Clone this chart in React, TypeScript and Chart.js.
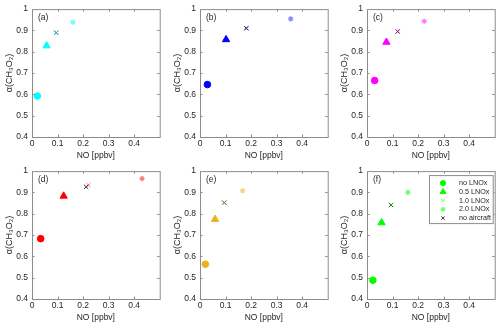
import React, { useEffect, useRef } from 'react';
import { Chart, registerables } from 'chart.js';
import { drawPoint } from 'chart.js/helpers';

Chart.register(...registerables);

// ---------------- data ----------------
const panelLabels = ['(a)', '(b)', '(c)', '(d)', '(e)', '(f)'];
const panelColors = ['#00FFFF', '#0000FF', '#FF00FF', '#FF0000', '#EDB120', '#00FF00'];
const panelLightColors = [
  'rgba(0,255,255,0.55)',
  'rgba(0,0,255,0.45)',
  'rgba(255,0,255,0.5)',
  'rgba(255,0,0,0.5)',
  'rgba(237,177,32,0.55)',
  'rgba(0,255,0,0.55)',
];
const seriesNames = ['no LNOx', '0.5 LNOx', '1.0 LNOx', '2.0 LNOx', 'no aircraft'];

const noLNOxNO = [0.021, 0.029, 0.030, 0.034, 0.021, 0.023];
const noLNOxAlpha = [0.592, 0.646, 0.665, 0.683, 0.563, 0.488];
const lnox05NO = [0.057, 0.102, 0.076, 0.124, 0.059, 0.057];
const lnox05Alpha = [0.828, 0.857, 0.845, 0.883, 0.774, 0.758];
const lnox10NO = [0.095, 0.182, 0.121, 0.221, 0.095, 0.095];
const lnox10Alpha = [0.889, 0.911, 0.895, 0.934, 0.852, 0.842];
const lnox20NO = [0.160, 0.355, 0.224, 0.431, 0.167, 0.160];
const lnox20Alpha = [0.938, 0.954, 0.943, 0.965, 0.908, 0.900];
const noAircraftNO = [0.095, 0.181, 0.120, 0.212, 0.095, 0.094];
const noAircraftAlpha = [0.889, 0.910, 0.895, 0.926, 0.852, 0.841];

const xMin = 0;
const xMax = 0.5;
const xStep = 0.1;
const xLastLabel = 0.4;
const yMin = 0.4;
const yMax = 1;
const yStep = 0.1;

const xTitle = 'NO [ppbv]';
const yTitle = 'α(CH₃O₂)';

// ---------------- style ----------------
const FONT = "'Liberation Sans', Arial, Helvetica, sans-serif";
const TEXT_COLOR = '#262626';
const AXIS_COLOR = '#8c8c8c';
const COL_LEFT = [32, 200, 367];
const ROW_TOP = [7, 169];
const CANVAS_W = 165;
const CANVAS_H = 163;
const LEGEND_RADIUS = [2.6, 3.4, 2.4, 2.4, 2.4];

function fmt(v: number) {
  return String(Math.round(v * 10) / 10);
}

function buildDatasets(i: number) {
  const c = panelColors[i];
  const lc = panelLightColors[i];
  return [
    {
      label: seriesNames[0],
      data: [{ x: noLNOxNO[i], y: noLNOxAlpha[i] }],
      pointStyle: 'circle',
      pointRadius: 3.3,
      backgroundColor: c,
      borderColor: c,
      borderWidth: 1,
    },
    {
      label: seriesNames[1],
      data: [{ x: lnox05NO[i], y: lnox05Alpha[i] }],
      pointStyle: 'triangle',
      pointRadius: 4.2,
      backgroundColor: c,
      borderColor: c,
      borderWidth: 1,
    },
    {
      label: seriesNames[2],
      data: [{ x: lnox10NO[i], y: lnox10Alpha[i] }],
      pointStyle: 'crossRot',
      pointRadius: 3,
      backgroundColor: lc,
      borderColor: lc,
      borderWidth: 1,
    },
    {
      label: seriesNames[3],
      data: [{ x: lnox20NO[i], y: lnox20Alpha[i] }],
      pointStyle: 'star',
      pointRadius: 2.6,
      backgroundColor: lc,
      borderColor: lc,
      borderWidth: 1.3,
    },
    {
      label: seriesNames[4],
      data: [{ x: noAircraftNO[i], y: noAircraftAlpha[i] }],
      pointStyle: 'crossRot',
      pointRadius: 3,
      backgroundColor: '#333333',
      borderColor: '#333333',
      borderWidth: 1,
    },
  ];
}

const decorPlugin = {
  id: 'decor',
  afterDraw(chart: any, _args: any, opts: any) {
    const { ctx, chartArea: a, scales } = chart;
    ctx.save();
    // inward tick marks
    ctx.strokeStyle = AXIS_COLOR;
    ctx.lineWidth = 1;
    ctx.beginPath();
    scales.x.ticks.forEach((t: any) => {
      if (t.value <= xMin + 1e-9 || t.value >= xMax - 1e-9) return;
      const px = Math.round(scales.x.getPixelForValue(t.value)) + 0.5;
      ctx.moveTo(px, a.bottom);
      ctx.lineTo(px, a.bottom - 2.5);
      ctx.moveTo(px, a.top);
      ctx.lineTo(px, a.top + 2.5);
    });
    scales.y.ticks.forEach((t: any) => {
      if (t.value <= yMin + 1e-9 || t.value >= yMax - 1e-9) return;
      const py = Math.round(scales.y.getPixelForValue(t.value)) + 0.5;
      ctx.moveTo(a.left, py);
      ctx.lineTo(a.left + 2.5, py);
      ctx.moveTo(a.right, py);
      ctx.lineTo(a.right - 2.5, py);
    });
    ctx.stroke();
    // box
    ctx.strokeRect(a.left + 0.5, a.top + 0.5, a.right - a.left, a.bottom - a.top);

    // panel label
    ctx.fillStyle = TEXT_COLOR;
    ctx.font = `8.5px ${FONT}`;
    ctx.textBaseline = 'middle';
    ctx.textAlign = 'left';
    ctx.fillText(opts.label, a.left + 6, a.top + 9);

    // legend
    if (opts.legend) {
      const x0 = a.left + 62;
      const y0 = a.top + 4;
      const w = a.right - 2 - x0;
      const h = 48;
      ctx.fillStyle = '#ffffff';
      ctx.fillRect(x0 + 0.5, y0 + 0.5, w, h);
      ctx.strokeStyle = AXIS_COLOR;
      ctx.lineWidth = 1;
      ctx.strokeRect(x0 + 0.5, y0 + 0.5, w, h);
      chart.data.datasets.forEach((ds: any, k: number) => {
        const cy = y0 + 8 + k * 8.75;
        ctx.fillStyle = ds.backgroundColor;
        ctx.strokeStyle = ds.borderColor;
        ctx.lineWidth = ds.borderWidth;
        drawPoint(
          ctx,
          { pointStyle: ds.pointStyle, radius: LEGEND_RADIUS[k], rotation: 0, borderWidth: ds.borderWidth } as any,
          x0 + 14,
          cy
        );
        ctx.fillStyle = TEXT_COLOR;
        ctx.font = `7.2px ${FONT}`;
        ctx.textBaseline = 'middle';
        ctx.textAlign = 'left';
        ctx.fillText(ds.label, x0 + 30, cy);
      });
    }
    ctx.restore();
  },
};

function buildConfig(i: number): any {
  const tickFont = { family: FONT, size: 8.5 };
  return {
    type: 'scatter',
    data: { datasets: buildDatasets(i) },
    plugins: [decorPlugin],
    options: {
      animation: false,
      responsive: false,
      devicePixelRatio: 1,
      layout: { padding: { left: 0, top: 7, right: 5, bottom: 0 } },
      plugins: {
        legend: { display: false },
        tooltip: { enabled: false },
        decor: { label: panelLabels[i], legend: i === 5 },
      },
      scales: {
        x: {
          type: 'linear',
          min: xMin,
          max: xMax,
          ticks: {
            stepSize: xStep,
            padding: 2,
            maxRotation: 0,
            autoSkip: false,
            color: TEXT_COLOR,
            font: tickFont,
            callback: (v: number) => (v > xLastLabel + 1e-9 ? '' : fmt(v)),
          },
          grid: { display: false, drawTicks: false },
          border: { display: false },
          title: {
            display: true,
            text: xTitle,
            color: TEXT_COLOR,
            font: { family: FONT, size: 8.5 },
            padding: { top: 0, bottom: 2 },
          },
          afterFit: (s: any) => {
            s.height = 26;
          },
        },
        y: {
          type: 'linear',
          min: yMin,
          max: yMax,
          ticks: {
            stepSize: yStep,
            padding: 4,
            autoSkip: false,
            color: TEXT_COLOR,
            font: tickFont,
            callback: (v: number) => fmt(v),
          },
          grid: { display: false, drawTicks: false },
          border: { display: false },
          title: {
            display: true,
            text: yTitle,
            color: TEXT_COLOR,
            font: { family: FONT, size: 9 },
            padding: { top: 4.5, bottom: 0 },
          },
          afterFit: (s: any) => {
            s.width = 32;
          },
        },
      },
    },
  };
}

function Panel({ index }: { index: number }) {
  const ref = useRef<HTMLCanvasElement>(null);
  useEffect(() => {
    const chart = new Chart(ref.current as HTMLCanvasElement, buildConfig(index));
    return () => chart.destroy();
  }, [index]);
  const col = index % 3;
  const row = Math.floor(index / 3);
  return (
    <canvas
      ref={ref}
      width={CANVAS_W}
      height={CANVAS_H}
      style={{
        position: 'absolute',
        left: COL_LEFT[col] - 32,
        top: ROW_TOP[row] - 7,
        width: CANVAS_W,
        height: CANVAS_H,
        display: 'block',
      }}
    />
  );
}

export default function App() {
  return (
    <div
      style={{
        position: 'absolute',
        left: 0,
        top: 0,
        width: 500,
        height: 327,
        background: '#ffffff',
        overflow: 'hidden',
      }}
    >
      {panelLabels.map((_, i) => (
        <Panel key={i} index={i} />
      ))}
    </div>
  );
}
